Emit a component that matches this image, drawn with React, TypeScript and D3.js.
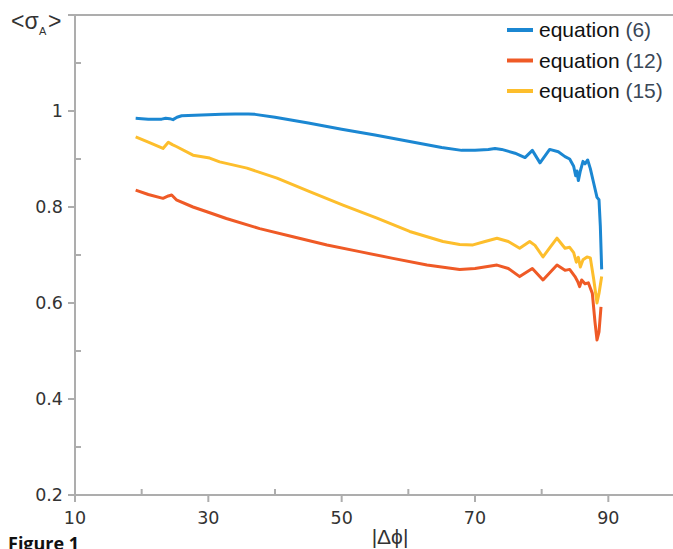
import React from "react";
import * as d3 from "d3";

const xMajorTicks = [10, 30, 50, 70, 90];
const xMinorTicks = [20, 40, 60, 80];
const yMajorTicks = [0.2, 0.4, 0.6, 0.8, 1];
const yMinorTicks = [0.3, 0.5, 0.7, 0.9, 1.1];
const yTickLabels = ["0.2", "0.4", "0.6", "0.8", "1"];

const seriesNames = ["equation ", "equation ", "equation "];
const seriesRefs = ["(6)", "(12)", "(15)"];
const seriesColors = ["#1b87d2", "#ef5a26", "#fdbe2c"];

const eq6: [number, number][] = [
  [19.1, 0.985], [20, 0.984], [21, 0.983], [22, 0.983], [23, 0.983], [23.6, 0.985], [24.2, 0.984],
  [24.7, 0.982], [25.3, 0.987], [26, 0.99], [28, 0.991], [30, 0.992], [32, 0.993], [34, 0.994],
  [36, 0.994], [37, 0.993], [40, 0.987], [45, 0.975], [50, 0.962], [55, 0.95], [60, 0.937],
  [65, 0.924], [68, 0.918], [70, 0.918], [72, 0.92], [73, 0.922], [74, 0.92], [76, 0.912],
  [77.5, 0.903], [78.6, 0.918], [79.75, 0.892], [81.2, 0.92], [82.5, 0.915], [83.5, 0.905],
  [84.2, 0.9], [84.8, 0.885], [85.1, 0.865], [85.3, 0.875], [85.5, 0.855], [85.8, 0.875],
  [86.2, 0.895], [86.5, 0.89], [86.9, 0.898], [87.3, 0.88], [87.8, 0.85], [88.3, 0.82],
  [88.6, 0.815], [88.8, 0.76], [89.0, 0.67],
];

const eq12: [number, number][] = [
  [19.1, 0.835], [21, 0.826], [23.2, 0.818], [24, 0.823], [24.5, 0.825], [25.2, 0.815],
  [27.7, 0.8], [30, 0.789], [32.7, 0.776], [37.7, 0.755], [42.7, 0.738], [47.8, 0.721],
  [52.7, 0.707], [57.7, 0.693], [62.8, 0.679], [67.7, 0.67], [70, 0.672], [73.3, 0.679],
  [75, 0.672], [76.7, 0.655], [78.6, 0.672], [80.2, 0.648], [82.3, 0.679], [83.5, 0.668],
  [84.2, 0.67], [85, 0.655], [85.4, 0.645], [85.7, 0.634], [86, 0.648], [86.5, 0.64],
  [87, 0.642], [87.6, 0.62], [88.0, 0.56], [88.3, 0.523], [88.6, 0.54], [88.9, 0.592],
];

const eq15: [number, number][] = [
  [19.1, 0.946], [21, 0.935], [23.2, 0.922], [24, 0.935], [24.6, 0.93], [25.2, 0.926],
  [27.7, 0.908], [30.2, 0.902], [31.7, 0.894], [35.8, 0.881], [40.3, 0.86], [45.2, 0.832],
  [50.2, 0.804], [55.3, 0.777], [60.2, 0.749], [65.2, 0.728], [67.7, 0.722], [69.7, 0.721],
  [71.5, 0.728], [73.3, 0.735], [75, 0.728], [76.7, 0.714], [78.2, 0.728], [79, 0.72],
  [80.2, 0.696], [81.2, 0.715], [82.3, 0.735], [83.5, 0.714], [84.2, 0.716], [84.8, 0.705],
  [85.2, 0.685], [85.5, 0.695], [85.8, 0.675], [86.2, 0.69], [86.8, 0.696], [87.3, 0.694],
  [87.8, 0.65], [88.3, 0.6], [88.6, 0.62], [89.0, 0.655],
];

const seriesData = [eq6, eq12, eq15];

export default function App() {
  const W = 673;
  const H = 549;
  const x = d3.scaleLinear().domain([10, 100]).range([75, 675]);
  const y = d3.scaleLinear().domain([0.2, 1.2]).range([495, 15]);
  const line = d3
    .line<[number, number]>()
    .x((d) => x(d[0]))
    .y((d) => y(d[1]))
    .curve(d3.curveLinear);
  const axisColor = "#adadad";
  const tickFont = "'DejaVu Sans', sans-serif";
  const arial = "'Liberation Sans', Arial, sans-serif";
  const x0 = x(10);
  const yb = y(0.2);
  const yt = y(1.2);
  return (
    <svg width={W} height={H} style={{ position: "absolute", left: 0, top: 0, background: "#fff" }}>
      <rect x={0} y={0} width={W} height={H} fill="#fff" />
      {/* axes */}
      <line x1={x0 - 7} x2={W} y1={yt} y2={yt} stroke={axisColor} strokeWidth={2} />
      <line x1={x0 - 7} x2={W} y1={yb} y2={yb} stroke={axisColor} strokeWidth={2} />
      <line x1={x0} x2={x0} y1={yt} y2={yb + 7} stroke={axisColor} strokeWidth={2} />
      {yMajorTicks.map((t) => (
        <line key={"ym" + t} x1={x0 - 7} x2={x0} y1={y(t)} y2={y(t)} stroke={axisColor} strokeWidth={2} />
      ))}
      {yMinorTicks.map((t) => (
        <line key={"yn" + t} x1={x0} x2={x0 + 6} y1={y(t)} y2={y(t)} stroke={axisColor} strokeWidth={2} />
      ))}
      {xMajorTicks.map((t) => (
        <line key={"xm" + t} x1={x(t)} x2={x(t)} y1={yb} y2={yb + 7} stroke={axisColor} strokeWidth={2} />
      ))}
      {xMinorTicks.map((t) => (
        <line key={"xn" + t} x1={x(t)} x2={x(t)} y1={yb} y2={yb - 6} stroke={axisColor} strokeWidth={2} />
      ))}
      {yMajorTicks.map((t, i) => (
        <text
          key={"yl" + t}
          x={x0 - 12}
          y={y(t)}
          dy="0.35em"
          textAnchor="end"
          fontFamily={tickFont}
          fontSize={17.5}
          fill="#333"
        >
          {yTickLabels[i]}
        </text>
      ))}
      {xMajorTicks.map((t) => (
        <text
          key={"xl" + t}
          x={x(t)}
          y={yb + 29}
          textAnchor="middle"
          fontFamily={tickFont}
          fontSize={17.5}
          fill="#333"
        >
          {t}
        </text>
      ))}
      {/* series */}
      {seriesData.map((d, i) => (
        <path
          key={"s" + i}
          d={line(d) || ""}
          fill="none"
          stroke={seriesColors[i]}
          strokeWidth={3}
          strokeLinejoin="round"
        />
      ))}
      {/* legend */}
      {seriesNames.map((n, i) => (
        <g key={"lg" + i} transform={`translate(0, ${30 + i * 30.5})`}>
          <line x1={507} x2={533} y1={0} y2={0} stroke={seriesColors[i]} strokeWidth={4} />
          <text x={539} y={0} dy="0.35em" fontFamily={arial} fontSize={21} fill="#111">
            {n}
            <tspan fill="#3a4757">{seriesRefs[i]}</tspan>
          </text>
        </g>
      ))}
      {/* axis titles */}
      <g fontFamily={arial} fill="#333">
        <text x={11} y={29} fontSize={23}>{"<σ"}</text>
        <text x={39} y={35} fontSize={11}>A</text>
        <text x={48} y={29} fontSize={23}>{">"}</text>
      </g>
      <text x={390} y={544} textAnchor="middle" fontFamily={arial} fontSize={21} fill="#333">
        |Δϕ|
      </text>
      <text x={8} y={550} fontFamily="'Open Sans', 'DejaVu Sans', sans-serif" fontWeight="bold" fontSize={18} fill="#111">
        Figure 1
      </text>
    </svg>
  );
}
